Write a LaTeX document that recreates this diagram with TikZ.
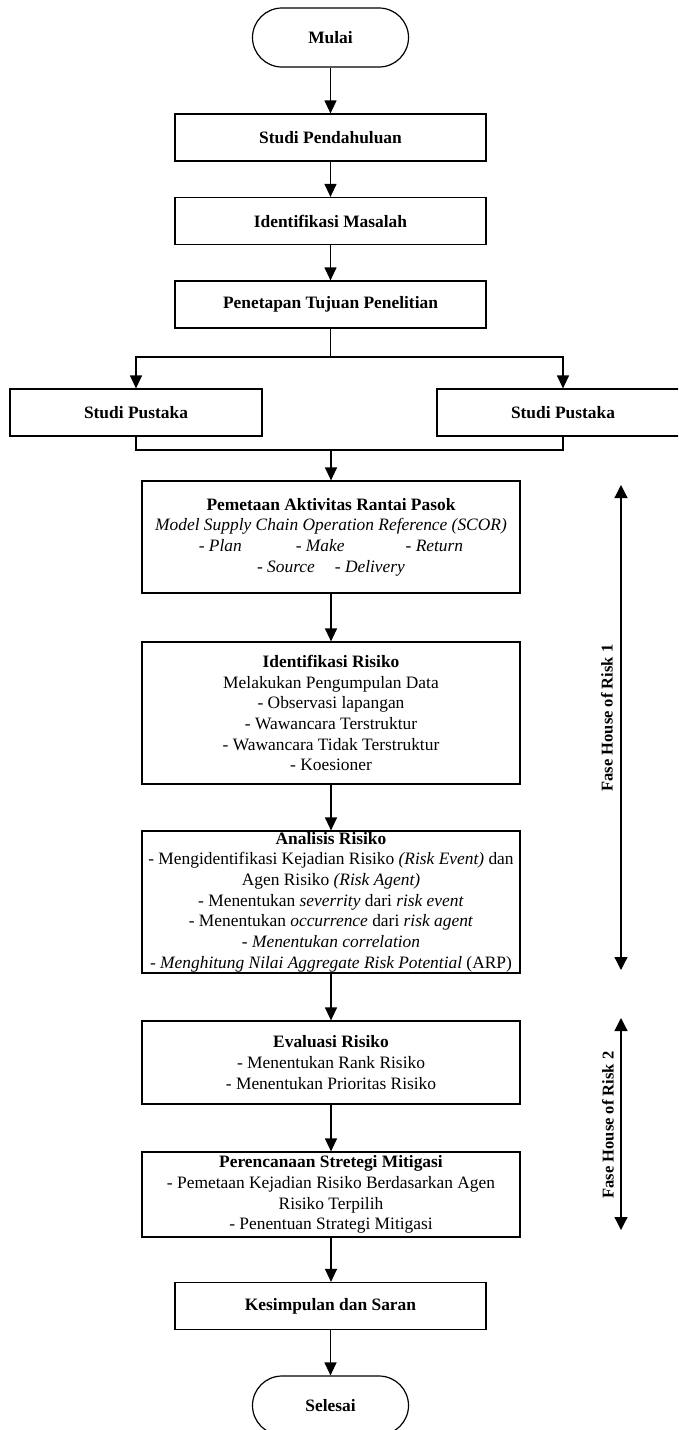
\documentclass[tikz,border=0pt]{standalone}
\usepackage{fontspec}
\setmainfont{Liberation Serif}
\usetikzlibrary{arrows.meta}
\newcommand\myfs{\fontsize{17.4}{20.7}\selectfont}
\newcommand\fasefs{\fontsize{16.5}{19}\selectfont}
\begin{document}
\begin{tikzpicture}[x=1pt,y=-1pt,
  box/.style={draw, line width=1.2pt, inner sep=0pt, align=center, font=\myfs},
  term/.style={box, rounded corners=29.5pt, minimum width=156pt, minimum height=59pt, font=\myfs\bfseries},
  smallbox/.style={box, minimum width=311pt, minimum height=47pt, font=\myfs\bfseries},
  bigbox/.style={box, minimum width=378pt},
  conn/.style={line width=1.2pt, -{Triangle[width=12pt,length=13pt]}},
  plain/.style={line width=1.2pt},
  phase/.style={line width=1.2pt, {Triangle[width=13pt,length=13pt]}-{Triangle[width=13pt,length=13pt]}},
  phasetext/.style={rotate=90, font=\fasefs\bfseries}
]
\useasboundingbox (0,0) rectangle (678,1430);
\clip (0,0) rectangle (678,1430);

\node[term] (mulai) at (330.5,37.5) {Mulai};
\node[smallbox] (sp) at (330.5,137.5) {Studi Pendahuluan};
\node[smallbox] (im) at (330.5,221) {Identifikasi Masalah};
\node[smallbox] (pt) at (330.5,304.5) {Penetapan Tujuan Penelitian};
\node[box, minimum width=252pt, minimum height=47pt, font=\myfs\bfseries] (spl) at (136,412.5) {Studi Pustaka};
\node[box, minimum width=252pt, minimum height=47pt, font=\myfs\bfseries] (spr) at (563,412.5) {Studi Pustaka};

\node[bigbox, minimum height=112pt] (pem) at (331,537) {\textbf{Pemetaan Aktivitas Rantai Pasok}\\
\textit{Model Supply Chain Operation Reference (SCOR)}\\
\textit{- Plan\hspace{54pt}- Make\hspace{61pt}- Return}\\
\textit{- Source\hspace{20pt}- Delivery}};

\node[bigbox, minimum height=142pt] (ir) at (331,713) {\textbf{Identifikasi Risiko}\\
Melakukan Pengumpulan Data\\
- Observasi lapangan\\
- Wawancara Terstruktur\\
- Wawancara Tidak Terstruktur\\
- Koesioner};

\node[bigbox, minimum height=142pt] (ar) at (331,902) {\textbf{Analisis Risiko}\\
- Mengidentifikasi Kejadian Risiko \textit{(Risk Event)} dan\\
Agen Risiko \textit{(Risk Agent)}\\
- Menentukan \textit{severrity} dari \textit{risk event}\\
- Menentukan \textit{occurrence} dari \textit{risk agent}\\
\textit{- Menentukan correlation}\\
- \textit{Menghitung Nilai Aggregate Risk Potential} (ARP)};

\node[bigbox, minimum height=83pt] (er) at (331,1062.5) {\textbf{Evaluasi Risiko}\\
- Menentukan Rank Risiko\\
- Menentukan Prioritas Risiko};

\node[bigbox, minimum height=85pt] (ps) at (331,1194.5) {\textbf{Perencanaan Stretegi Mitigasi}\\
- Pemetaan Kejadian Risiko Berdasarkan Agen\\
Risiko Terpilih\\
- Penentuan Strategi Mitigasi};

\node[smallbox] (ks) at (330.5,1306) {Kesimpulan dan Saran};
\node[term] (sel) at (330.5,1405.5) {Selesai};

% connectors
\draw[conn] (mulai) -- (sp);
\draw[conn] (sp) -- (im);
\draw[conn] (im) -- (pt);
\coordinate (br) at (330.5,357);
\draw[plain] (pt.south) -- (br);
\draw[conn] (br) -| (spl.north);
\draw[conn] (br) -| (spr.north);
\coordinate (jn) at (331,450);
\draw[plain] (spl.south) |- (jn) -| (spr.south);
\draw[conn] (jn) -- (pem.north);
\draw[conn] (pem) -- (ir);
\draw[conn] (ir) -- (ar);
\draw[conn] (ar) -- (er);
\draw[conn] (er) -- (ps);
\draw[conn] (ps.south) -- (ps.south |- ks.north);
\draw[conn] (ks) -- (sel);

% phases
\coordinate (f1a) at (621,485);
\coordinate (f1b) at (621,970);
\draw[phase] (f1a) -- (f1b);
\node[phasetext] (f1t) at (607,718) {Fase House of Risk 1};
\coordinate (f2a) at (621,1018);
\coordinate (f2b) at (621,1230);
\draw[phase] (f2a) -- (f2b);
\node[phasetext] (f2t) at (608,1125) {Fase House of Risk 2};
\end{tikzpicture}
\end{document}
